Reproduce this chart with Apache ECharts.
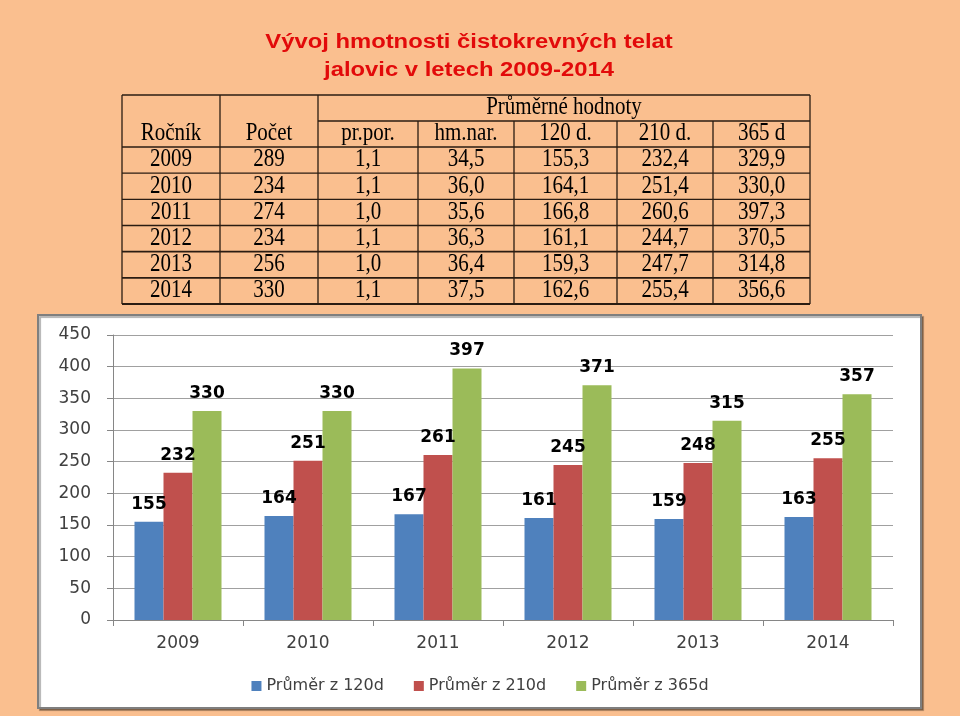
<!DOCTYPE html>
<html>
<head>
<meta charset="utf-8">
<script src="https://cdn.jsdelivr.net/npm/echarts@6/dist/echarts.min.js"></script>
<style>
  html, body { margin: 0; padding: 0; background: #FABF8F; }
  #chart { width: 960px; height: 716px; }
</style>
</head>
<body>
<div id="chart"></div>
<script>
// data
var years = ['2009', '2010', '2011', '2012', '2013', '2014'];
var pocet = [289, 234, 274, 234, 256, 330];
var prPor = [1.1, 1.1, 1.0, 1.1, 1.0, 1.1];
var hmNar = [34.5, 36.0, 35.6, 36.3, 36.4, 37.5];
var d120 = [155.3, 164.1, 166.8, 161.1, 159.3, 162.6];
var d210 = [232.4, 251.4, 260.6, 244.7, 247.7, 255.4];
var d365 = [329.9, 330.0, 397.3, 370.5, 314.8, 356.6];
var tableHead = ['Ročník', 'Počet', 'pr.por.', 'hm.nar.', '120 d.', '210 d.', '365 d'];
var seriesNames = ['Průměr z 120d', 'Průměr z 210d', 'Průměr z 365d'];
var yTicks = [0, 50, 100, 150, 200, 250, 300, 350, 400, 450];

function cz(v) { return v.toFixed(1).replace('.', ','); }

// table layout
var colX = [122, 220, 318, 418, 514, 617, 713, 810];
var tTop = 95, tBottom = 304, head1 = 121, head2 = 147;
var rowH = (tBottom - head2) / years.length;
var lineCol = '#2a1c12';
var tFont = { fontFamily: '"Liberation Serif", "Times New Roman", serif', fontSize: 21, fill: '#000' };

var g = [];
function ln(x1, y1, x2, y2, w) {
  g.push({ type: 'line', z: 10, shape: { x1: x1, y1: y1, x2: x2, y2: y2 },
    style: { stroke: lineCol, lineWidth: w || 1.3 } });
}
function tx(x, y, s) {
  g.push({ type: 'text', z: 10, x: x, y: y, scaleY: 1.15,
    style: Object.assign({ text: s, align: 'center', verticalAlign: 'middle' }, tFont) });
}

// outer frame + lines
ln(colX[0], tTop, colX[7], tTop);
ln(colX[0], tBottom, colX[7], tBottom, 1.8);
ln(colX[0], tTop, colX[0], tBottom);
ln(colX[7], tTop, colX[7], tBottom);
ln(colX[2], head1, colX[7], head1);
ln(colX[1], tTop, colX[1], tBottom);
ln(colX[2], tTop, colX[2], tBottom);
for (var c = 3; c < 7; c++) ln(colX[c], head1, colX[c], tBottom);
for (var r = 0; r < years.length; r++) {
  var y0 = head2 + r * rowH;
  ln(colX[0], y0, colX[7], y0, r >= 4 ? 1.8 : 1.3);
}

tx((colX[2] + colX[7]) / 2, (tTop + head1) / 2, 'Průměrné hodnoty');
tx((colX[0] + colX[1]) / 2, (head1 + head2) / 2 , tableHead[0]);
tx((colX[1] + colX[2]) / 2, (head1 + head2) / 2, tableHead[1]);
for (var c2 = 2; c2 < 7; c2++) tx((colX[c2] + colX[c2 + 1]) / 2, (head1 + head2) / 2, tableHead[c2]);

for (var i = 0; i < years.length; i++) {
  var cy = head2 + i * rowH + rowH / 2;
  var rowVals = [years[i], String(pocet[i]), cz(prPor[i]), cz(hmNar[i]), cz(d120[i]), cz(d210[i]), cz(d365[i])];
  for (var k = 0; k < 7; k++) tx((colX[k] + colX[k + 1]) / 2, cy, rowVals[k]);
}

// title
var titleStyle = { align: 'center', verticalAlign: 'middle',
  fontFamily: '"Liberation Sans", Arial, sans-serif', fontWeight: 'bold', fontSize: 20, fill: '#E20A0A' };
g.push({ type: 'text', z: 10, x: 469, y: 42, scaleX: 1.19,
  style: Object.assign({ text: 'Vývoj hmotnosti čistokrevných telat' }, titleStyle) });
g.push({ type: 'text', z: 10, x: 469, y: 70, scaleX: 1.19,
  style: Object.assign({ text: 'jalovic v letech 2009-2014' }, titleStyle) });

// chart frame
g.push({ type: 'rect', z: -10, shape: { x: 38, y: 315, width: 883, height: 393 },
  style: { fill: '#fff', stroke: '#7f7f7f', lineWidth: 2,
    shadowBlur: 1, shadowOffsetX: 2, shadowOffsetY: 2, shadowColor: 'rgba(0,0,0,0.3)' } });

var chart = echarts.init(document.getElementById('chart'));
var font = 'DejaVu Sans';
var colors = ['#4F81BD', '#C0504D', '#9BBB59'];
var vals = [d120, d210, d365];

var option = {
  backgroundColor: '#FABF8F',
  animation: false,
  color: colors,
  graphic: g,
  legend: {
    data: seriesNames,
    left: 'center',
    top: 673,
    icon: 'rect',
    itemWidth: 10,
    itemHeight: 10,
    itemGap: 30,
    textStyle: { fontFamily: font, fontSize: 16, color: '#404040' }
  },
  grid: { left: 113, right: 67, top: 335, bottom: 96 },
  xAxis: {
    type: 'category',
    data: years,
    axisLine: { lineStyle: { color: '#868686', width: 1 } },
    axisTick: { show: true, length: 6, lineStyle: { color: '#868686' } },
    axisLabel: { fontFamily: font, fontSize: 17, color: '#404040', margin: 15 }
  },
  yAxis: {
    type: 'value',
    min: yTicks[0],
    max: yTicks[yTicks.length - 1],
    interval: 50,
    axisLine: { show: true, lineStyle: { color: '#868686' } },
    axisTick: { show: true, length: 6, lineStyle: { color: '#868686' } },
    splitLine: { lineStyle: { color: '#a0a0a0', width: 1 } },
    axisLabel: { fontFamily: font, fontSize: 17, color: '#404040', margin: 22 }
  },
  series: seriesNames.map(function (name, idx) {
    return {
      name: name,
      type: 'bar',
      data: vals[idx],
      barWidth: 29,
      barGap: '0%',
      label: {
        show: true,
        position: 'top',
        distance: 9,
        fontFamily: font,
        fontWeight: 'bold',
        fontSize: 17,
        color: '#000',
        formatter: function (p) { return Math.round(p.value); }
      }
    };
  })
};

chart.setOption(option);
</script>
</body>
</html>
